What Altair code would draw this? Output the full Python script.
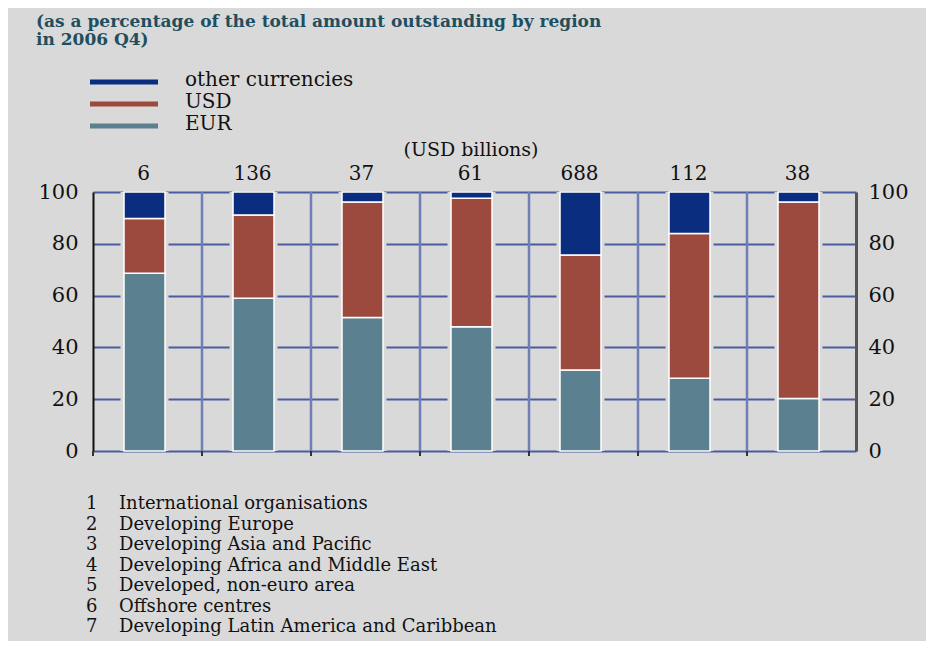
import altair as alt
import pandas as pd

# ---------------- data ----------------
categories = ["1", "2", "3", "4", "5", "6", "7"]
region_names = [
    "International organisations",
    "Developing Europe",
    "Developing Asia and Pacific",
    "Developing Africa and Middle East",
    "Developed, non-euro area",
    "Offshore centres",
    "Developing Latin America and Caribbean",
]
totals_usd_bn = [6, 136, 37, 61, 688, 112, 38]
eur = [68.6, 59.0, 51.5, 48.0, 31.3, 28.1, 20.3]
usd = [21.2, 32.1, 44.6, 49.6, 44.4, 55.9, 75.8]
other = [10.2, 8.9, 3.9, 2.4, 24.3, 16.0, 3.9]
series = ["other currencies", "USD", "EUR"]
colors = ["#0b2d80", "#9c4a3e", "#5b808f"]
title_lines = ["(as a percentage of the total amount outstanding by region", "in 2006 Q4)"]
units_label = "(USD billions)"
y_ticks = [0, 20, 40, 60, 80, 100]

# ---------------- layout / style ----------------
W, H = 763, 259
BG = "#d9d9d9"
FONT = "DejaVu Serif"
TXT = "#111111"
GRID = "#4b5ca0"

rows = []
for i, c in enumerate(categories):
    for s, vals, o in [("EUR", eur, 0), ("USD", usd, 1), ("other currencies", other, 2)]:
        rows.append({"cat": c, "series": s, "value": vals[i], "order": o})
df = pd.DataFrame(rows)
cat_df = pd.DataFrame({"cat": categories, "total": totals_usd_bn, "full": [100] * len(categories)})

xscale = alt.Scale(domain=categories, paddingInner=0, paddingOuter=0)
yscale = alt.Scale(domain=[0, 100], nice=False)
cscale = alt.Scale(domain=series, range=colors)

left_axis = alt.Axis(
    orient="left", values=y_ticks, grid=True, gridColor=GRID, gridWidth=2,
    ticks=False, domainColor="#111111", domainWidth=2, labelPadding=15,
    labelFontSize=21, labelFont=FONT, labelColor=TXT, title=None, zindex=0,
)
right_axis = alt.Axis(
    orient="right", values=y_ticks, grid=False, ticks=False,
    domainColor="#555555", domainWidth=3, labelPadding=12,
    labelFontSize=21, labelFont=FONT, labelColor=TXT, title=None, zindex=1,
)
x_axis = alt.Axis(
    orient="bottom", ticks=False, domainColor="#333333", domainWidth=2,
    labelPadding=6, labelFontSize=21, labelFont=FONT, labelColor=TXT,
    labelAngle=0, title=None, zindex=1,
)

# vertical grid lines at category boundaries
vgrid = alt.Chart(cat_df.iloc[1:]).mark_rule(color="#6f7fb5", strokeWidth=2.5).encode(
    x=alt.X("cat:N", bandPosition=0, scale=xscale, axis=None),
    y=alt.value(0), y2=alt.value(H),
)

# small ticks under the axis at category boundaries
hooks = alt.Chart(cat_df).mark_rule(color="#333333", strokeWidth=2).encode(
    x=alt.X("cat:N", bandPosition=0, scale=xscale, axis=None),
    y=alt.value(H), y2=alt.value(H + 5),
)

# background-coloured halo bars that break the grid lines around each bar
halo = alt.Chart(cat_df).mark_bar(color=BG, width=48, xOffset=-3).encode(
    x=alt.X("cat:N", scale=xscale, axis=x_axis),
    y=alt.Y("full:Q", scale=yscale, axis=right_axis),
)

bars = alt.Chart(df).mark_bar(width=41, xOffset=-3, stroke="white", strokeWidth=1.5).encode(
    x=alt.X("cat:N", scale=xscale, axis=None),
    y=alt.Y("value:Q", stack="zero", scale=yscale, axis=left_axis),
    color=alt.Color("series:N", scale=cscale, legend=None),
    order=alt.Order("order:Q"),
)

totals = alt.Chart(cat_df).mark_text(font=FONT, fontSize=20, color=TXT, baseline="middle", dx=-4).encode(
    x=alt.X("cat:N", scale=xscale, axis=None),
    y=alt.value(-18),
    text=alt.Text("total:Q"),
)

units = alt.Chart(pd.DataFrame({"t": [units_label]})).mark_text(
    font=FONT, fontSize=19, color=TXT, baseline="middle", align="center"
).encode(text="t:N", x=alt.value(378), y=alt.value(-42))

title = alt.Chart(pd.DataFrame({"a": [0]})).mark_text(
    text=title_lines, font=FONT, fontSize=17, fontWeight="bold", color="#1f4e5f",
    align="left", baseline="alphabetic", lineHeight=18,
).encode(x=alt.value(-57), y=alt.value(-165))

# manual legend
legend_layers = []
sym_y = [-110, -88, -66]
lab_y = [-112, -90, -68]
for i, s in enumerate(series):
    sdf = pd.DataFrame({"series": [s]})
    legend_layers.append(
        alt.Chart(sdf).mark_rule(strokeWidth=5).encode(
            x=alt.value(-3), x2=alt.value(65), y=alt.value(sym_y[i]),
            color=alt.Color("series:N", scale=cscale, legend=None),
        )
    )
    legend_layers.append(
        alt.Chart(sdf).mark_text(font=FONT, fontSize=20, color=TXT, align="left", baseline="middle").encode(
            text="series:N", x=alt.value(92), y=alt.value(lab_y[i]),
        )
    )

# numbered list of regions
list_nums = alt.Chart(pd.DataFrame({"a": [0]})).mark_text(
    text=categories, font=FONT, fontSize=18, color=TXT, align="left", baseline="alphabetic", lineHeight=20.5,
).encode(x=alt.value(-7), y=alt.value(317))
list_names = alt.Chart(pd.DataFrame({"a": [0]})).mark_text(
    text=region_names, font=FONT, fontSize=18, color=TXT, align="left", baseline="alphabetic", lineHeight=20.5,
).encode(x=alt.value(26), y=alt.value(317))

chart = alt.layer(
    vgrid, halo, bars, hooks, totals, units, title, *legend_layers, list_nums, list_names
).resolve_axis(y="independent").properties(
    width=W, height=H,
    padding={"left": 85, "top": 184, "right": 70, "bottom": 190},
    autosize=alt.AutoSizeParams(type="none"),
    background=BG,
).configure_view(stroke=None)

chart.save("out.html", embed_options={"renderer": "svg", "actions": False})
